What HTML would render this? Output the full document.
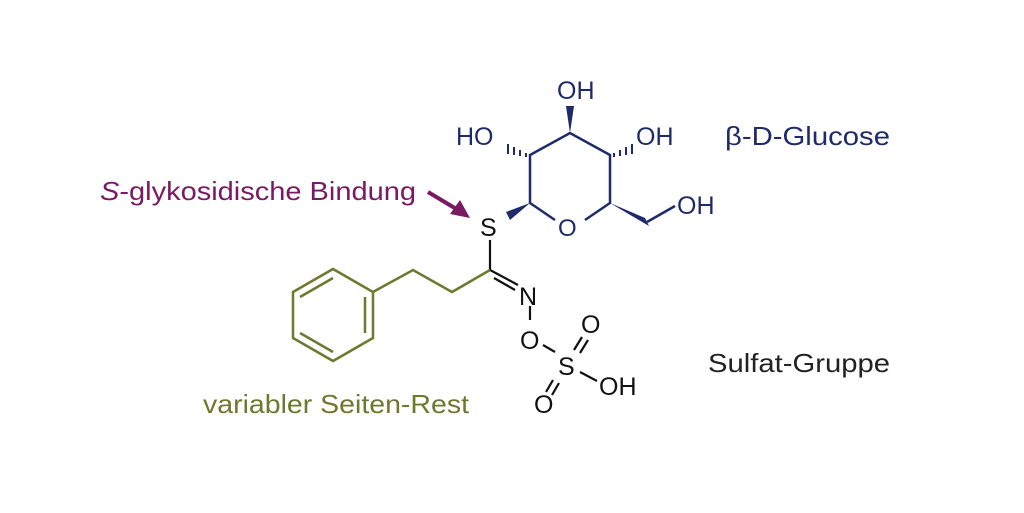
<!DOCTYPE html>
<html><head><meta charset="utf-8"><style>
html,body{margin:0;padding:0;background:#fff}
svg{display:block}
text{font-family:"Liberation Sans",sans-serif}
</style></head><body>
<svg width="1024" height="513" viewBox="0 0 1024 513" xmlns="http://www.w3.org/2000/svg">
<!-- labels -->
<text x="100" y="200" font-size="26" fill="#7a1a63" textLength="316" lengthAdjust="spacingAndGlyphs"><tspan font-style="italic">S</tspan>-glykosidische Bindung</text>
<line x1="428" y1="192" x2="458" y2="210" stroke="#7a1a63" stroke-width="4"/>
<polygon points="470,218 450,214 460,200" fill="#7a1a63"/>
<text x="725" y="145" font-size="26" fill="#1f2a6b" textLength="165" lengthAdjust="spacingAndGlyphs">β-D-Glucose</text>
<text x="708" y="372" font-size="26" fill="#222" textLength="182" lengthAdjust="spacingAndGlyphs">Sulfat-Gruppe</text>
<text x="203" y="413" font-size="26" fill="#6b7a2e" textLength="266" lengthAdjust="spacingAndGlyphs">variabler Seiten-Rest</text>

<!-- glucose -->
<g stroke="#1f2a6b" stroke-width="2.5" fill="none">
<polyline points="555,220 530,203 530,155 570,133 610,155 610,203 585,220"/>
<line x1="647" y1="222" x2="675" y2="206"/>
</g>
<g fill="#1f2a6b">
<polygon points="570,133 566,106 574,106"/>
<polygon points="530,203 506,212 510,220"/>
<polygon points="610,203 645,218 649,226"/>
</g>
<g stroke="#1f2a6b" stroke-width="2">
<line x1="526" y1="153" x2="526" y2="157"/><line x1="520" y1="150" x2="520" y2="156"/><line x1="514" y1="147" x2="514" y2="155"/><line x1="508" y1="144" x2="508" y2="154"/>
<line x1="614" y1="153" x2="614" y2="157"/><line x1="620" y1="150" x2="620" y2="156"/><line x1="626" y1="147" x2="626" y2="155"/><line x1="632" y1="144" x2="632" y2="154"/>
</g>
<g font-size="25" fill="#1f2a6b">
<text x="557" y="99">OH</text>
<text x="456" y="145">HO</text>
<text x="636" y="145">OH</text>
<text x="677" y="214">OH</text>
<text x="558" y="236" font-size="24">O</text>
</g>

<!-- S, N, sulfate -->
<g stroke="#111" stroke-width="2.2" fill="none">
<line x1="490" y1="240" x2="490" y2="270"/>
<line x1="490" y1="270" x2="518" y2="285"/>
<line x1="494" y1="278" x2="515" y2="290"/>
<line x1="530" y1="306" x2="530" y2="320"/>
<line x1="543" y1="345" x2="555" y2="352"/>
<line x1="574" y1="350" x2="582" y2="337"/><line x1="580" y1="353" x2="588" y2="340"/>
<line x1="553" y1="380" x2="546" y2="392"/><line x1="559" y1="383" x2="552" y2="395"/>
<line x1="580" y1="372" x2="597" y2="381"/>
</g>
<g font-size="25" fill="#111">
<text x="480" y="236">S</text>
<text x="519" y="305">N</text>
<text x="520" y="349">O</text>
<text x="558" y="375">S</text>
<text x="581" y="333">O</text>
<text x="534" y="413">O</text>
<text x="599" y="395">OH</text>
</g>

<!-- side chain -->
<g stroke="#6b7a2e" stroke-width="2.5" fill="none">
<polyline points="490,270 452,292 413,270 373,292"/>
<polygon points="373,292 373,338 333,361 293,338 293,292 333,269"/>
<line x1="365" y1="297" x2="365" y2="333"/>
<line x1="333" y1="352" x2="300" y2="333"/>
<line x1="300" y1="297" x2="333" y2="278"/>
</g>
</svg>
</body></html>
